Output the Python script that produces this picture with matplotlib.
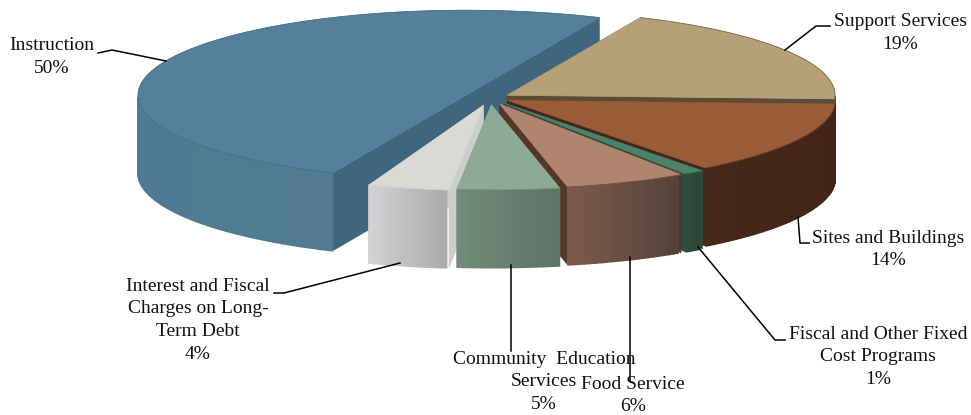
import numpy as np
import matplotlib
matplotlib.use("Agg")
import matplotlib.pyplot as plt
from matplotlib.colors import to_rgb
from matplotlib.patches import Polygon

categories = ["Support Services", "Sites and Buildings", "Fiscal and Other Fixed\nCost Programs",
              "Food Service", "Community  Education\nServices",
              "Interest and Fiscal\nCharges on Long-\nTerm Debt", "Instruction"]
shares = [19, 14, 1, 6, 5, 4, 50]

# styling per slice
explode = [0.061, 0.06, 0.075, 0.075, 0.08, 0.09, 0.08]
top_colors = ["#b5a077", "#9a5c38", "#4f8069", "#b08570", "#8caa96", "#dad9d6", "#55809b"]
cut_colors = ["#5c4c33", "#43261a", "#2f4c3c", "#573628", "#6d8877", "#cdcdcb", "#3f667e"]
wall_left = ["#5c4c33", "#45281a", "#2f4c3c", "#7c5a4a", "#708b7a", "#d2d2d2", "#4f7a95"]
wall_right = ["#5c4c33", "#412415", "#2a4436", "#54413a", "#5d7366", "#a9a9a9", "#527a92"]

# first line of each label and leader line, in pixels
label_xy = [(900, 22), (888, 238), (878, 334), (633, 384), (544, 359), (198, 286), (52, 46)]
leaders = [
    [(830, 26), (816, 26), (785, 50)],
    [(798, 217), (800, 243), (809, 243)],
    [(698, 247), (775, 340), (785, 340)],
    [(630, 257), (630, 381)],
    [(511, 265), (511, 351)],
    [(400, 263), (284, 293), (274, 293)],
    [(98, 53), (112, 50), (166, 61)],
]
line_pitch = 22.8

# the pie is projected onto an ellipse
cx0, cy0 = 490, 98
rx, ry = 328, 85
depth = 78
start = 66

fig = plt.figure(figsize=(9.71, 4.15), dpi=100)
ax = fig.add_axes([0, 0, 1, 1])
ax.set_xlim(0, 971)
ax.set_ylim(415, 0)
ax.axis("off")


def point(cx, cy, deg):
    a = np.deg2rad(deg)
    return np.array([cx + rx * np.cos(a), cy - ry * np.sin(a)])


# angles run clockwise, 3.6 degrees per percent
ends = start - np.cumsum(shares) * 3.6
begins = np.r_[start, ends[:-1]]
# the labels sum to 99, the spare percent sits in front of Instruction
begins[-1] -= 3.6
ends[-1] -= 3.6

# back to front
order = [6, 0, 1, 2, 3, 5, 4]
z = 1
for i in order:
    mid = np.deg2rad((begins[i] + ends[i]) / 2)
    cx = cx0 + explode[i] * rx * np.cos(mid)
    cy = cy0 - explode[i] * ry * np.sin(mid)
    arc = np.linspace(begins[i], ends[i], 80)
    top = np.array([point(cx, cy, t) for t in arc])
    tip = np.array([cx, cy])
    down = np.array([0, depth])

    # cut faces
    for corner in (top[0], top[-1]):
        ax.add_patch(Polygon([tip, corner, corner + down, tip + down], closed=True,
                             fc=cut_colors[i], ec=cut_colors[i], lw=0.4, zorder=z))
    z += 1

    # curved wall, shaded in narrow strips
    front = [t for t in np.arange(ends[i], begins[i] + 0.01, 1.0)
             if -180 <= ((t + 180) % 360) - 180 <= 0]
    for a, b in zip(front[:-1], front[1:]):
        p, q = point(cx, cy, a), point(cx, cy, b)
        f = (a - front[0]) / (front[-1] - front[0])
        col = np.array(to_rgb(wall_left[i])) * (1 - f) + np.array(to_rgb(wall_right[i])) * f
        ax.add_patch(Polygon([p, q, q + down, p + down], closed=True, fc=col, ec=col,
                             lw=1.0, zorder=z))
    z += 1

    ax.add_patch(Polygon(np.vstack([tip, top]), closed=True, fc=top_colors[i],
                         ec=top_colors[i], lw=0.5, zorder=z))
    # darker rim along the outer edge
    ax.plot(top[:, 0], top[:, 1], color=cut_colors[i], lw=0.6, zorder=z, alpha=0.7)
    z += 1

for name, share, (x, y), line in zip(categories, shares, label_xy, leaders):
    rows = name.split("\n") + [f"{share}%"]
    for k, row in enumerate(rows):
        ax.text(x, y + k * line_pitch, row, ha="center", va="center", fontsize=14,
                family="Liberation Serif", color="#111111", zorder=z + 1)
    xs, ys = zip(*line)
    ax.plot(xs, ys, color="black", lw=1.1, zorder=z)

fig.savefig("out.png", dpi=100, facecolor="white")
